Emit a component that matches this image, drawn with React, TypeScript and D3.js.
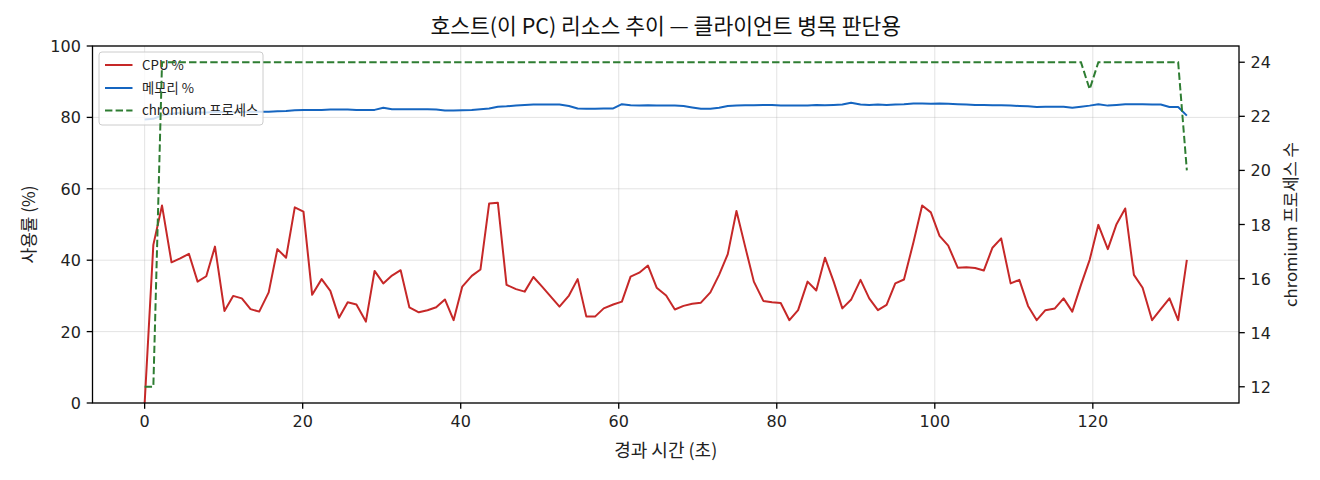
import React from "react";
import * as d3 from "d3";

const title = "호스트(이 PC) 리소스 추이 — 클라이언트 병목 판단용";
const xLabel = "경과 시간 (초)";
const yLeftLabel = "사용률 (%)";
const yRightLabel = "chromium 프로세스 수";
const legendLabels = ["CPU %", "메모리 %", "chromium 프로세스"];

const elapsed = [
  0.0, 1.1, 2.2, 3.4, 4.5, 5.6, 6.7, 7.8, 8.9, 10.1, 11.2, 12.3, 13.4, 14.5, 15.7, 16.8, 17.9, 19.0, 20.1, 21.2,
  22.4, 23.5, 24.6, 25.7, 26.8, 28.0, 29.1, 30.2, 31.3, 32.4, 33.5, 34.7, 35.8, 36.9, 38.0, 39.1, 40.2, 41.4, 42.5, 43.6,
  44.7, 45.8, 47.0, 48.1, 49.2, 50.3, 51.4, 52.5, 53.7, 54.8, 55.9, 57.0, 58.1, 59.3, 60.4, 61.5, 62.6, 63.7, 64.8, 66.0,
  67.1, 68.2, 69.3, 70.4, 71.6, 72.7, 73.8, 74.9, 76.0, 77.1, 78.3, 79.4, 80.5, 81.6, 82.7, 83.9, 85.0, 86.1, 87.2, 88.3,
  89.4, 90.6, 91.7, 92.8, 93.9, 95.0, 96.1, 97.3, 98.4, 99.5, 100.6, 101.7, 102.9, 104.0, 105.1, 106.2, 107.3, 108.4, 109.6, 110.7,
  111.8, 112.9, 114.0, 115.2, 116.3, 117.4, 118.5, 119.6, 120.7, 121.9, 123.0, 124.1, 125.2, 126.3, 127.5, 128.6, 129.7, 130.8, 131.9,
];

const cpuPct = [
  0, 44.3, 55.3, 39.4, 40.5, 41.8, 34.0, 35.5, 43.8, 25.8, 30.0, 29.3, 26.3, 25.6, 31.0, 43.1, 40.7, 54.8, 53.6, 30.3,
  34.7, 31.4, 23.9, 28.2, 27.6, 22.8, 37.0, 33.5, 35.7, 37.2, 26.8, 25.4, 26.0, 26.8, 29.0, 23.2, 32.6, 35.6, 37.4, 55.9,
  56.1, 33.1, 31.9, 31.2, 35.3, 32.6, 29.8, 27.0, 30.1, 34.7, 24.2, 24.2, 26.5, 27.6, 28.4, 35.4, 36.5, 38.5, 32.3, 30.1,
  26.2, 27.2, 27.8, 28.1, 31.0, 35.9, 41.7, 53.8, 43.8, 34.0, 28.6, 28.2, 28.0, 23.2, 26.0, 34.0, 31.5, 40.7, 34.0, 26.5,
  28.9, 34.5, 29.3, 26.0, 27.5, 33.5, 34.6, 45.0, 55.3, 53.4, 46.8, 44.1, 37.9, 38.0, 37.8, 37.1, 43.5, 46.1, 33.5, 34.5,
  27.2, 23.2, 26.0, 26.5, 29.3, 25.6, 33.1, 40.1, 49.9, 43.1, 50.1, 54.5, 35.9, 32.3, 23.2, 26.3, 29.3, 23.2, 40.1,
];

const memPct = [
  79.4, 79.6, 80.6, 81.0, 81.3, 81.4, 81.4, 81.4, 81.5, 81.5, 81.5, 81.5, 81.6, 81.6, 81.6, 81.7, 81.8, 82.0, 82.1, 82.1,
  82.1, 82.2, 82.2, 82.2, 82.1, 82.1, 82.1, 82.7, 82.3, 82.3, 82.3, 82.3, 82.3, 82.2, 81.9, 81.9, 82.0, 82.1, 82.3, 82.5,
  83.0, 83.1, 83.3, 83.5, 83.6, 83.6, 83.6, 83.6, 83.2, 82.5, 82.4, 82.4, 82.5, 82.5, 83.7, 83.4, 83.3, 83.4, 83.3, 83.3,
  83.3, 83.2, 82.8, 82.4, 82.4, 82.7, 83.2, 83.3, 83.4, 83.4, 83.5, 83.5, 83.3, 83.3, 83.3, 83.3, 83.5, 83.4, 83.5, 83.6,
  84.1, 83.6, 83.5, 83.6, 83.5, 83.6, 83.7, 83.9, 83.9, 83.8, 83.9, 83.8, 83.7, 83.6, 83.5, 83.5, 83.4, 83.4, 83.3, 83.2,
  83.1, 82.9, 83.0, 83.0, 83.0, 82.7, 83.0, 83.3, 83.7, 83.3, 83.5, 83.7, 83.7, 83.7, 83.6, 83.6, 82.9, 82.9, 80.5,
];

const chromiumProcs = [
  12, 12,
  24, 24, 24, 24, 24, 24, 24, 24, 24, 24, 24, 24, 24, 24, 24,
  24, 24, 24, 24, 24, 24, 24, 24, 24, 24, 24, 24, 24, 24, 24,
  24, 24, 24, 24, 24, 24, 24, 24, 24, 24, 24, 24, 24, 24, 24,
  24, 24, 24, 24, 24, 24, 24, 24, 24, 24, 24, 24, 24, 24, 24,
  24, 24, 24, 24, 24, 24, 24, 24, 24, 24, 24, 24, 24, 24, 24,
  24, 24, 24, 24, 24, 24, 24, 24, 24, 24, 24, 24, 24, 24, 24,
  24, 24, 24, 24, 24, 24, 24, 24, 24, 24, 24, 24, 24, 24, 24,
  23,
  24, 24, 24, 24, 24, 24, 24, 24, 24, 24,
  20,
];

const xTicks = [0, 20, 40, 60, 80, 100, 120];
const yLeftTicks = [0, 20, 40, 60, 80, 100];
const yRightTicks = [12, 14, 16, 18, 20, 22, 24];

const W = 1320;
const H = 480;
const M = { left: 92.5, right: 1239, top: 46, bottom: 403 };

const COLORS = { cpu: "#c62828", mem: "#1565c0", proc: "#2e7d32" };
const KFONT = "'Noto Sans CJK KR', 'Noto Sans', sans-serif";
const NFONT = "'DejaVu Sans', 'Noto Sans CJK KR', sans-serif";

export default function App() {
  const x = d3.scaleLinear().domain([-6.6, 138.5]).range([M.left, M.right]);
  const yL = d3.scaleLinear().domain([0, 100]).range([M.bottom, M.top]);
  const yR = d3.scaleLinear().domain([11.4, 24.6]).range([M.bottom, M.top]);

  const idx = elapsed.map((_, i) => i);
  const lineL = (vals: number[]) =>
    d3.line<number>().x((i) => x(elapsed[i])).y((i) => yL(vals[i]))(idx) || "";
  const lineR = d3.line<number>().x((i) => x(elapsed[i])).y((i) => yR(chromiumProcs[i]))(idx) || "";

  const tickLen = 5.8;
  const gridStyle = { stroke: "#b0b0b0", strokeOpacity: 0.35, strokeWidth: 1 };

  const lg = { x: 99, y: 52, w: 164, h: 73 };
  const rowY = [65, 88, 110.5];
  const legendStyles = [
    { color: COLORS.cpu, dash: undefined },
    { color: COLORS.mem, dash: undefined },
    { color: COLORS.proc, dash: "7.4 3.2" },
  ];

  return (
    <svg
      width={W}
      height={H}
      viewBox={`0 0 ${W} ${H}`}
      style={{ position: "absolute", left: 0, top: 0, background: "#fff" }}
    >
      <rect x={0} y={0} width={W} height={H} fill="#fff" />
      <defs>
        <clipPath id="plotClip">
          <rect x={M.left} y={M.top} width={M.right - M.left} height={M.bottom - M.top} />
        </clipPath>
      </defs>

      {/* grid */}
      {xTicks.map((t) => (
        <line key={"gx" + t} x1={x(t)} x2={x(t)} y1={M.top} y2={M.bottom} {...gridStyle} />
      ))}
      {yLeftTicks.map((t) => (
        <line key={"gy" + t} x1={M.left} x2={M.right} y1={yL(t)} y2={yL(t)} {...gridStyle} />
      ))}

      {/* left-axis series */}
      <g clipPath="url(#plotClip)">
        <path d={lineL(cpuPct)} fill="none" stroke={COLORS.cpu} strokeWidth={2} strokeLinejoin="round" />
        <path d={lineL(memPct)} fill="none" stroke={COLORS.mem} strokeWidth={2} strokeLinejoin="round" />
      </g>

      {/* legend */}
      <g>
        <rect x={lg.x} y={lg.y} width={lg.w} height={lg.h} rx={3} fill="#fff" fillOpacity={0.8} stroke="#cccccc" strokeWidth={1} />
        {legendLabels.map((lab, i) => (
          <g key={lab}>
            <line
              x1={105}
              x2={132.5}
              y1={rowY[i]}
              y2={rowY[i]}
              stroke={legendStyles[i].color}
              strokeWidth={2}
              strokeDasharray={legendStyles[i].dash}
            />
            <text x={142} y={rowY[i] + 4.6} fontFamily={KFONT} fontSize={13.3} fill="#222">
              {lab}
            </text>
          </g>
        ))}
      </g>

      {/* right-axis series */}
      <g clipPath="url(#plotClip)">
        <path d={lineR} fill="none" stroke={COLORS.proc} strokeWidth={2} strokeDasharray="7.4 3.2" />
      </g>

      {/* spines */}
      <rect x={M.left} y={M.top} width={M.right - M.left} height={M.bottom - M.top} fill="none" stroke="#000" strokeWidth={1.3} />

      {/* x ticks */}
      {xTicks.map((t) => (
        <g key={"xt" + t}>
          <line x1={x(t)} x2={x(t)} y1={M.bottom} y2={M.bottom + tickLen} stroke="#000" strokeWidth={1.3} />
          <text x={x(t)} y={M.bottom + tickLen + 5.8 + 12.2} textAnchor="middle" fontFamily={NFONT} fontSize={16} fill="#222">
            {t}
          </text>
        </g>
      ))}
      {/* left y ticks */}
      {yLeftTicks.map((t) => (
        <g key={"yl" + t}>
          <line x1={M.left - tickLen} x2={M.left} y1={yL(t)} y2={yL(t)} stroke="#000" strokeWidth={1.3} />
          <text x={M.left - tickLen - 5.8} y={yL(t) + 6} textAnchor="end" fontFamily={NFONT} fontSize={16} fill="#222">
            {t}
          </text>
        </g>
      ))}
      {/* right y ticks */}
      {yRightTicks.map((t) => (
        <g key={"yr" + t}>
          <line x1={M.right} x2={M.right + tickLen} y1={yR(t)} y2={yR(t)} stroke="#000" strokeWidth={1.3} />
          <text x={M.right + tickLen + 5.8} y={yR(t) + 6} textAnchor="start" fontFamily={NFONT} fontSize={16} fill="#222">
            {t}
          </text>
        </g>
      ))}

      {/* labels */}
      <text x={(M.left + M.right) / 2} y={34} textAnchor="middle" fontFamily={KFONT} fontSize={21.5} fill="#111">
        {title}
      </text>
      <text x={(M.left + M.right) / 2} y={457} textAnchor="middle" fontFamily={KFONT} fontSize={18} fill="#222">
        {xLabel}
      </text>
      <text
        transform={`translate(35, ${(M.top + M.bottom) / 2}) rotate(-90)`}
        textAnchor="middle"
        fontFamily={KFONT}
        fontSize={17}
        fill="#222"
      >
        {yLeftLabel}
      </text>
      <text
        transform={`translate(1297, ${(M.top + M.bottom) / 2}) rotate(-90)`}
        textAnchor="middle"
        fontFamily={KFONT}
        fontSize={16.7}
        fill="#222"
      >
        {yRightLabel}
      </text>
    </svg>
  );
}
